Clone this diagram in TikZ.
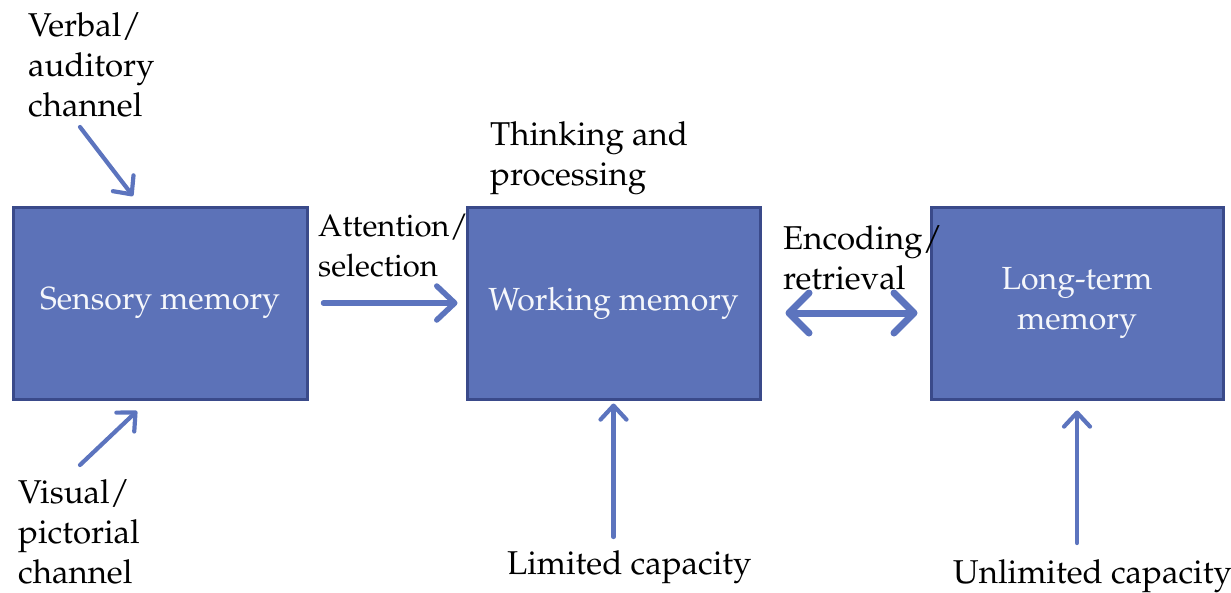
\documentclass[tikz,border=0pt]{standalone}
\usepackage[T1]{fontenc}
\usepackage{mathpazo}
\usetikzlibrary{arrows.meta}

\definecolor{boxfill}{RGB}{92,114,184}
\definecolor{boxline}{RGB}{58,74,138}
\definecolor{arrowblue}{RGB}{92,116,190}

\tikzset{
  memorybox/.style={draw=boxline, line width=3pt, fill=boxfill, text=white!94!boxfill,
    align=center, inner sep=0pt, font=\fontsize{32}{40}\selectfont},
  label/.style={align=left, inner sep=0pt, text=black,
    font=\fontsize{33}{40}\selectfont},
  thinarrow/.style={draw=arrowblue, line width=4.2pt, line cap=round,
    -{Straight Barb[length=14pt, width=26pt, line width=4.2pt, round]}},
  flowarrow/.style={draw=arrowblue, line width=5.5pt, line cap=round,
    -{Straight Barb[length=18pt, width=34pt, line width=5.5pt, round]}},
  twoway/.style={draw=arrowblue, line width=7pt, line cap=round,
    {Straight Barb[length=20pt, width=40pt, line width=7pt, round]}-{Straight Barb[length=20pt, width=40pt, line width=7pt, round]}},
}

\begin{document}
\begin{tikzpicture}[x=1pt, y=-1pt]
  \useasboundingbox (0,0) rectangle (1231,592);

  % the three memory stores
  \node[memorybox, minimum width=294pt, minimum height=192pt] (sens) at (160,303) {Sensory memory};
  \node[memorybox, minimum width=293pt, minimum height=192pt] (work) at (613.5,303) {Working memory};
  \node[memorybox, minimum width=292pt, minimum height=192pt] (ltm) at (1077,303) {Long-term\\memory};

  % labels
  \node[label, anchor=north west] (verbal) at (28,12) {Verbal/\\auditory\\channel};
  \node[label, anchor=north west] (visual) at (18,479) {Visual/\\pictorial\\channel};
  \node[label, anchor=north west] (think) at (490,121) {Thinking and\\processing};
  \node[label, anchor=north west, font=\fontsize{31}{40}\selectfont] (attn) at (318,214) {Attention/\\selection};
  \node[label, anchor=north west] (enc) at (783,225) {Encoding/\\retrieval};
  \node[label, anchor=north west] (limited) at (507,550) {Limited capacity};
  \node[label, anchor=north west] (unlimited) at (953,559) {Unlimited capacity};

  % free ends of the channel arrows
  \coordinate (vtail) at (80,127);
  \coordinate (vhead) at (133,196);
  \coordinate (ptail) at (80,465);
  \coordinate (phead) at (137,411);

  % connectors
  \draw[thinarrow] (vtail) -- (vhead);
  \draw[thinarrow] (ptail) -- (phead);
  \draw[flowarrow, shorten <=15pt, shorten >=8pt] (sens.east) -- (work.west);
  \draw[twoway, shorten <=24pt, shorten >=12pt] ([yshift=-10pt]work.east) -- ([yshift=-10pt]ltm.west);
  \draw[thinarrow, shorten <=13pt, shorten >=3pt] (work.south |- limited.north) -- (work.south);
  \draw[thinarrow, shorten <=16pt, shorten >=10pt] (ltm.south |- unlimited.north) -- (ltm.south);
\end{tikzpicture}
\end{document}
